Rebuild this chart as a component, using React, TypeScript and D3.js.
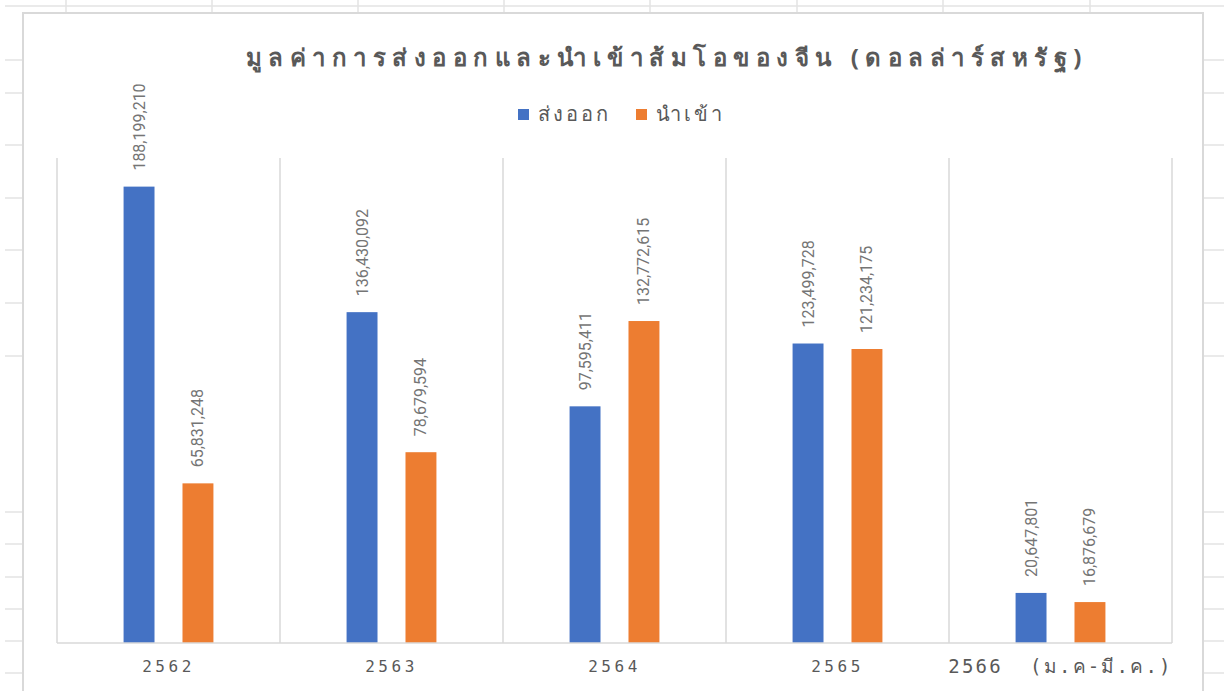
import React, { useEffect, useRef } from "react";
import * as d3 from "d3";

const years = ["2562", "2563", "2564", "2565", "2566  (ม.ค-มี.ค.)"];
const exportValues = [188199210, 136430092, 97595411, 123499728, 20647801];
const importValues = [65831248, 78679594, 132772615, 121234175, 16876679];
const seriesNames = ["ส่งออก", "นำเข้า"];
const seriesColors = ["#4472C4", "#ED7D31"];
const title = "มูลค่าการส่งออกและนำเข้าส้มโอของจีน (ดอลล่าร์สหรัฐ)";
const yMax = 200000000;

// spreadsheet backdrop (row / column lines behind the chart object)
const sheetRows = [6, 60, 93, 145, 198, 250, 303, 356, 512, 544, 577, 609, 641, 673];
const sheetCols = [66, 212, 358, 504, 650, 797, 943, 1090];

const W = 1224;
const H = 691;

export default function App() {
  const ref = useRef<SVGSVGElement | null>(null);

  useEffect(() => {
    const svg = d3.select(ref.current);
    svg.selectAll("*").remove();

    const grid = "#e3e3e3";
    const textColor = "#595959";
    const last = years.length - 1;

    // sheet background
    svg.append("rect").attr("width", W).attr("height", H).attr("fill", "#fff");
    svg.selectAll(".row").data(sheetRows).enter().append("line")
      .attr("x1", 5).attr("x2", W).attr("y1", d => d).attr("y2", d => d)
      .attr("stroke", grid).attr("stroke-width", 1.5);
    svg.selectAll(".col").data(sheetCols).enter().append("line")
      .attr("x1", d => d).attr("x2", d => d).attr("y1", 0).attr("y2", 14)
      .attr("stroke", grid).attr("stroke-width", 1.5);

    // chart object
    svg.append("rect")
      .attr("x", 23).attr("y", 13).attr("width", 1180).attr("height", H)
      .attr("fill", "#fff").attr("stroke", "#d9d9d9").attr("stroke-width", 2);

    const plot = { left: 57, right: 1172, top: 158, bottom: 643 };

    const x0 = d3.scaleBand<string>()
      .domain(years)
      .range([plot.left, plot.right])
      .padding(0);

    const x1 = d3.scaleBand<string>()
      .domain(seriesNames)
      .range([0, x0.bandwidth()])
      .paddingInner(0.475)
      .paddingOuter(1.13);

    const y = d3.scaleLinear()
      .domain([0, yMax])
      .range([plot.bottom, plot.top]);

    // category gridlines
    const bounds = years.map(d => x0(d) as number).concat([plot.right]);
    svg.append("g").selectAll("line").data(bounds).enter().append("line")
      .attr("x1", d => d).attr("x2", d => d)
      .attr("y1", plot.top).attr("y2", plot.bottom)
      .attr("stroke", "#d9d9d9").attr("stroke-width", 1.5);

    const rows = years.map((yr, i) => ({ year: yr, values: [exportValues[i], importValues[i]] }));

    const groups = svg.append("g").selectAll("g").data(rows).enter().append("g")
      .attr("transform", d => `translate(${x0(d.year)},0)`);

    groups.selectAll("rect")
      .data(d => d.values.map((v, j) => ({ key: seriesNames[j], v, j })))
      .enter().append("rect")
      .attr("x", d => x1(d.key) as number)
      .attr("y", d => y(d.v))
      .attr("width", x1.bandwidth())
      .attr("height", d => plot.bottom - y(d.v))
      .attr("fill", d => seriesColors[d.j]);

    groups.selectAll("text")
      .data(d => d.values.map((v, j) => ({ key: seriesNames[j], v })))
      .enter().append("text")
      .attr("transform", d => {
        const cx = (x1(d.key) as number) + x1.bandwidth() / 2 + 5.5;
        return `translate(${cx},${y(d.v) - 16}) rotate(-90)`;
      })
      .attr("font-family", "Roboto, 'Liberation Sans', sans-serif")
      .attr("font-size", 16)
      .attr("fill", "#757575")
      .text(d => d3.format(",")(d.v));

    // baseline
    svg.append("line")
      .attr("x1", plot.left).attr("x2", plot.right)
      .attr("y1", plot.bottom).attr("y2", plot.bottom)
      .attr("stroke", "#d9d9d9").attr("stroke-width", 1.5);

    // category axis
    const xAxis = svg.append("g")
      .attr("transform", `translate(0,${plot.bottom})`)
      .call(d3.axisBottom(x0).tickSize(0).tickPadding(0));
    xAxis.select(".domain").remove();
    xAxis.selectAll<SVGTextElement, string>("text")
      .attr("dy", null)
      .attr("y", (d, i) => (i === last ? 30 : 29))
      .attr("fill", textColor)
      .attr("font-family", "'DejaVu Sans Mono', monospace")
      .attr("font-size", (d, i) => (i === last ? 19 : 16))
      .attr("letter-spacing", (d, i) => (i === last ? 2.2 : 3.5))
      .style("white-space", "pre");

    // title
    svg.append("text")
      .attr("x", 667).attr("y", 66)
      .attr("text-anchor", "middle")
      .attr("font-family", "'Noto Sans', Tahoma, sans-serif")
      .attr("font-size", 24)
      .attr("font-weight", "bold")
      .attr("letter-spacing", 6.5)
      .attr("fill", textColor)
      .text(title);

    // legend
    const legendX = [518, 636];
    const legend = svg.append("g").selectAll("g").data(seriesNames).enter().append("g")
      .attr("transform", (d, i) => `translate(${legendX[i]},109)`);
    legend.append("rect")
      .attr("width", 11).attr("height", 11)
      .attr("fill", (d, i) => seriesColors[i]);
    legend.append("text")
      .attr("x", 20).attr("y", 12)
      .attr("font-family", "'Noto Sans', Tahoma, sans-serif")
      .attr("font-size", 20)
      .attr("letter-spacing", 3)
      .attr("fill", textColor)
      .text(d => d);
  }, []);

  return (
    <svg
      ref={ref}
      width={W}
      height={H}
      style={{ position: "fixed", left: 0, top: 0, display: "block" }}
    />
  );
}
